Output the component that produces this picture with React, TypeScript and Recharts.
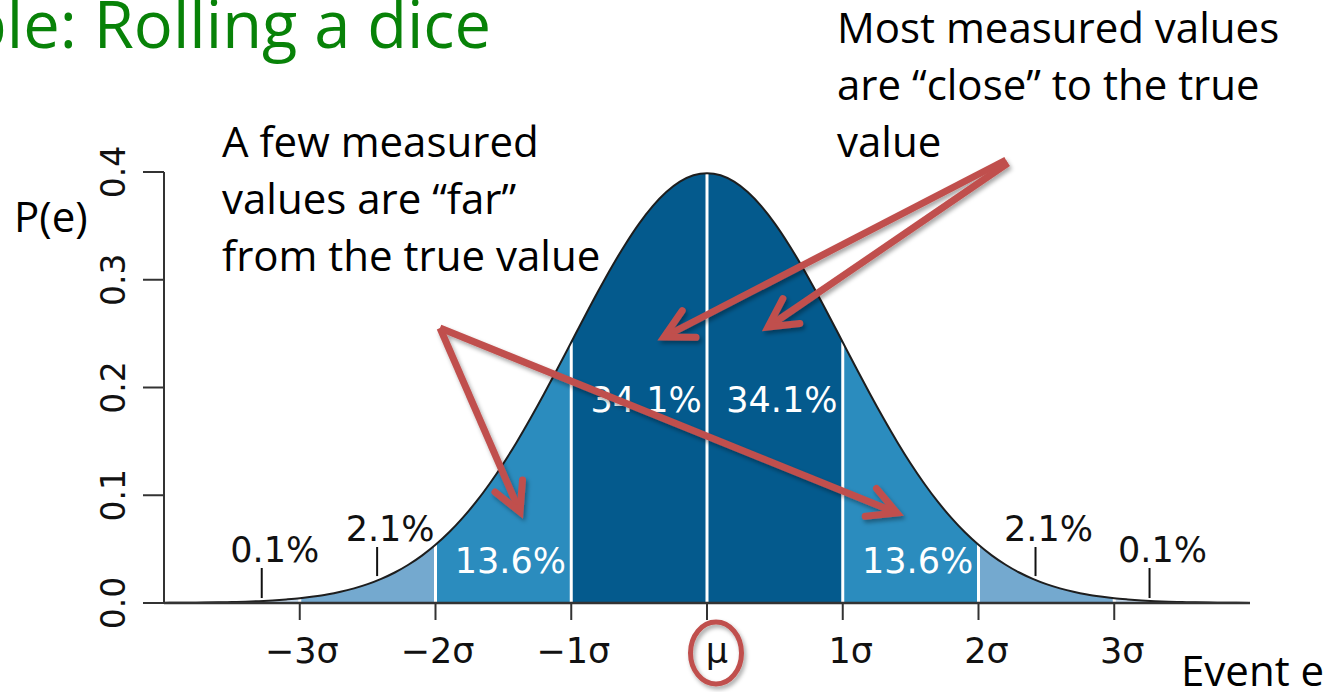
import React from 'react';
import { ComposedChart, Area, Line, XAxis, YAxis, ReferenceLine, ReferenceDot } from 'recharts';

// ---- data ----
const sigmaPositions = [
  -4, -3.9, -3.8, -3.7, -3.6, -3.5, -3.4, -3.3, -3.2, -3.1,
  -3, -2.9, -2.8, -2.7, -2.6, -2.5, -2.4, -2.3, -2.2, -2.1,
  -2, -1.9, -1.8, -1.7, -1.6, -1.5, -1.4, -1.3, -1.2, -1.1,
  -1, -0.9, -0.8, -0.7, -0.6, -0.5, -0.4, -0.3, -0.2, -0.1,
  0,
  0.1, 0.2, 0.3, 0.4, 0.5, 0.6, 0.7, 0.8, 0.9, 1,
  1.1, 1.2, 1.3, 1.4, 1.5, 1.6, 1.7, 1.8, 1.9, 2,
  2.1, 2.2, 2.3, 2.4, 2.5, 2.6, 2.7, 2.8, 2.9, 3,
  3.1, 3.2, 3.3, 3.4, 3.5, 3.6, 3.7, 3.8, 3.9, 4,
];
const density = [
  0.0001, 0.0002, 0.0003, 0.0004, 0.0006, 0.0009, 0.0012, 0.0017, 0.0024, 0.0033,
  0.0044, 0.006, 0.0079, 0.0104, 0.0136, 0.0175, 0.0224, 0.0283, 0.0355, 0.044,
  0.054, 0.0656, 0.079, 0.094, 0.1109, 0.1295, 0.1497, 0.1714, 0.1942, 0.2179,
  0.242, 0.2661, 0.2897, 0.3123, 0.3332, 0.3521, 0.3683, 0.3814, 0.391, 0.397,
  0.3989,
  0.397, 0.391, 0.3814, 0.3683, 0.3521, 0.3332, 0.3123, 0.2897, 0.2661, 0.242,
  0.2179, 0.1942, 0.1714, 0.1497, 0.1295, 0.1109, 0.094, 0.079, 0.0656, 0.054,
  0.044, 0.0355, 0.0283, 0.0224, 0.0175, 0.0136, 0.0104, 0.0079, 0.006, 0.0044,
  0.0033, 0.0024, 0.0017, 0.0012, 0.0009, 0.0006, 0.0004, 0.0003, 0.0002, 0.0001,
];
const xTickValues = [-3, -2, -1, 0, 1, 2, 3];
const xTickLabels = ['−3σ', '−2σ', '−1σ', 'μ', '1σ', '2σ', '3σ'];
const yTickValues = [0, 0.1, 0.2, 0.3, 0.4];
const yTickLabels = ['0.0', '0.1', '0.2', '0.3', '0.4'];
const bandBoundaries = [-3, -2, -1, 0, 1, 2, 3];
const bandLabelCenters = [-1.5, -0.5, 0.5, 1.5];
const bandLabels = ['13.6%', '34.1%', '34.1%', '13.6%'];
const tailMarkerPositions = [-3.28, -2.43, 2.42, 3.26];
const tailLabels = ['0.1%', '2.1%', '2.1%', '0.1%'];

// ---- chart setup ----
const W = 1335;
const H = 692;
const EPS = 1e-9;
const rows = sigmaPositions.map((x, i) => {
  const p = density[i];
  const a = Math.abs(x);
  return {
    x,
    p,
    core: a <= 1 + EPS ? p : null,
    mid: a >= 1 - EPS && a <= 2 + EPS ? p : null,
    outer: a >= 2 - EPS && a <= 3 + EPS ? p : null,
    tail: a >= 3 - EPS ? p : null,
  };
});
const densityAt = (x: number) => density[sigmaPositions.indexOf(x)];

const NUM_FONT = '"DejaVu Sans", sans-serif';
const TXT_FONT = '"Open Sans", "Noto Sans", sans-serif';
const RED = '#c0504d';

const bandLabelY = [0.0278, 0.1773, 0.1773, 0.0278];
const tailLabelY = [0.038, 0.0575, 0.0575, 0.038];
const tailMarkerRange = [
  [0.0046, 0.0325],
  [0.025, 0.052],
  [0.025, 0.052],
  [0.0046, 0.0325],
];

const XTick = (props: any) => {
  const { x, y, payload } = props;
  const idx = xTickValues.indexOf(payload.value);
  const v = payload.value;
  const dx = v > 0 ? 8 : v === 0 ? 10 : 2;
  return (
    <text x={x + dx} y={y + 43} textAnchor="middle" fontFamily={NUM_FONT} fontSize={35} fill="#111">
      {xTickLabels[idx]}
    </text>
  );
};

const YTick = (props: any) => {
  const { x, y, payload } = props;
  const idx = yTickValues.findIndex((t) => Math.abs(t - payload.value) < 1e-9);
  const bx = x - 18;
  return (
    <text
      x={bx}
      y={y}
      transform={`rotate(-90, ${bx}, ${y})`}
      textAnchor="middle"
      fontFamily={NUM_FONT}
      fontSize={33}
      fill="#111"
    >
      {yTickLabels[idx]}
    </text>
  );
};

function arrowPath(x1: number, y1: number, x2: number, y2: number, len = 32, ang = 28) {
  const dx = x1 - x2;
  const dy = y1 - y2;
  const d = Math.hypot(dx, dy);
  const ux = dx / d;
  const uy = dy / d;
  const t = (ang * Math.PI) / 180;
  const w1x = x2 + len * (ux * Math.cos(t) - uy * Math.sin(t));
  const w1y = y2 + len * (ux * Math.sin(t) + uy * Math.cos(t));
  const w2x = x2 + len * (ux * Math.cos(-t) - uy * Math.sin(-t));
  const w2y = y2 + len * (ux * Math.sin(-t) + uy * Math.cos(-t));
  return {
    shaft: `M${x1},${y1} L${x2},${y2}`,
    head: `M${w1x},${w1y} L${x2},${y2} L${w2x},${w2y}`,
  };
}

const arrows = [
  [1006, 160, 664, 337],
  [1008, 163, 768, 327],
  [440, 328, 520, 512],
  [440, 328, 897, 513],
];

export default function App() {
  return (
    <div style={{ position: 'absolute', left: 0, top: 0, width: W, height: H, background: '#fff', overflow: 'hidden' }}>
      <ComposedChart
        width={W}
        height={H}
        data={rows}
        margin={{ top: 172, right: 85, bottom: 29, left: 100 }}
      >
        <XAxis
          dataKey="x"
          type="number"
          domain={[-4, 4]}
          ticks={xTickValues}
          tick={<XTick />}
          tickSize={17}
          tickMargin={0}
          height={60}
          axisLine={{ stroke: '#333', strokeWidth: 2.5 }}
          tickLine={{ stroke: '#333', strokeWidth: 2 }}
          allowDataOverflow
        />
        <YAxis
          type="number"
          domain={[0, 0.4]}
          ticks={yTickValues}
          tick={<YTick />}
          tickSize={21}
          tickMargin={0}
          width={64}
          axisLine={{ stroke: '#333', strokeWidth: 2 }}
          tickLine={{ stroke: '#333', strokeWidth: 2 }}
          allowDataOverflow
        />
        <Area dataKey="tail" type="monotone" fill="#c6dbef" fillOpacity={1} stroke="none" isAnimationActive={false} />
        <Area dataKey="outer" type="monotone" fill="#74a9cf" fillOpacity={1} stroke="none" isAnimationActive={false} />
        <Area dataKey="mid" type="monotone" fill="#2b8cbe" fillOpacity={1} stroke="none" isAnimationActive={false} />
        <Area dataKey="core" type="monotone" fill="#045a8d" fillOpacity={1} stroke="none" isAnimationActive={false} />
        {bandBoundaries.map((b) => (
          <ReferenceLine
            key={'sep' + b}
            segment={[{ x: b, y: 0 }, { x: b, y: densityAt(b) }]}
            stroke="#fff"
            strokeWidth={3}
          />
        ))}
        <Line dataKey="p" type="monotone" stroke="#1e1e1e" strokeWidth={2} dot={false} isAnimationActive={false} />
        {tailMarkerPositions.map((m, i) => (
          <ReferenceLine
            key={'mk' + i}
            segment={[{ x: m, y: tailMarkerRange[i][0] }, { x: m, y: tailMarkerRange[i][1] }]}
            stroke="#111"
            strokeWidth={2}
          />
        ))}
        {bandLabelCenters.map((c, i) => (
          <ReferenceDot
            key={'bl' + i}
            x={c}
            y={bandLabelY[i]}
            r={0}
            shape={(p: any) => (
              <text x={p.cx + 7} y={p.cy} textAnchor="middle" fontFamily={NUM_FONT} fontSize={35} fill="#fff">
                {bandLabels[i]}
              </text>
            )}
          />
        ))}
        {tailMarkerPositions.map((m, i) => (
          <ReferenceDot
            key={'tl' + i}
            x={m}
            y={tailLabelY[i]}
            r={0}
            shape={(p: any) => (
              <text x={p.cx + 13} y={p.cy} textAnchor="middle" fontFamily={NUM_FONT} fontSize={35} fill="#111">
                {tailLabels[i]}
              </text>
            )}
          />
        ))}
      </ComposedChart>
      <svg
        width={W}
        height={H}
        style={{ position: 'absolute', left: 0, top: 0, pointerEvents: 'none' }}
      >
        <defs>
          <filter id="shadow" x="-20%" y="-20%" width="140%" height="140%">
            <feDropShadow dx="2" dy="3" stdDeviation="2" floodColor="#000" floodOpacity="0.35" />
          </filter>
        </defs>
        <text x={491} y={48} textAnchor="end" fontFamily={TXT_FONT} fontSize={65} fill="#088208">
          ple: Rolling a dice
        </text>
        <text fontFamily={TXT_FONT} fontSize={42} fill="#000">
          <tspan x={222} y={157}>A few measured</tspan>
          <tspan x={222} y={214}>values are “far”</tspan>
          <tspan x={222} y={271}>from the true value</tspan>
        </text>
        <text fontFamily={TXT_FONT} fontSize={42} fill="#000">
          <tspan x={837} y={43}>Most measured values</tspan>
          <tspan x={837} y={100}>are “close” to the true</tspan>
          <tspan x={837} y={157}>value</tspan>
        </text>
        <text x={14} y={232} fontFamily={TXT_FONT} fontSize={42} fill="#000">P(e)</text>
        <text x={1181} y={686} fontFamily={TXT_FONT} fontSize={42} fill="#000">Event e</text>
        <g filter="url(#shadow)" stroke={RED} strokeWidth={7} fill="none">
          {arrows.map((a, i) => {
            const ap = arrowPath(a[0], a[1], a[2], a[3]);
            return (
              <g key={i}>
                <path d={ap.shaft} strokeLinecap="butt" />
                <path d={ap.head} strokeLinecap="round" strokeLinejoin="miter" />
              </g>
            );
          })}
          <ellipse cx={716} cy={653} rx={25.5} ry={31} strokeWidth={5} />
        </g>
      </svg>
    </div>
  );
}
